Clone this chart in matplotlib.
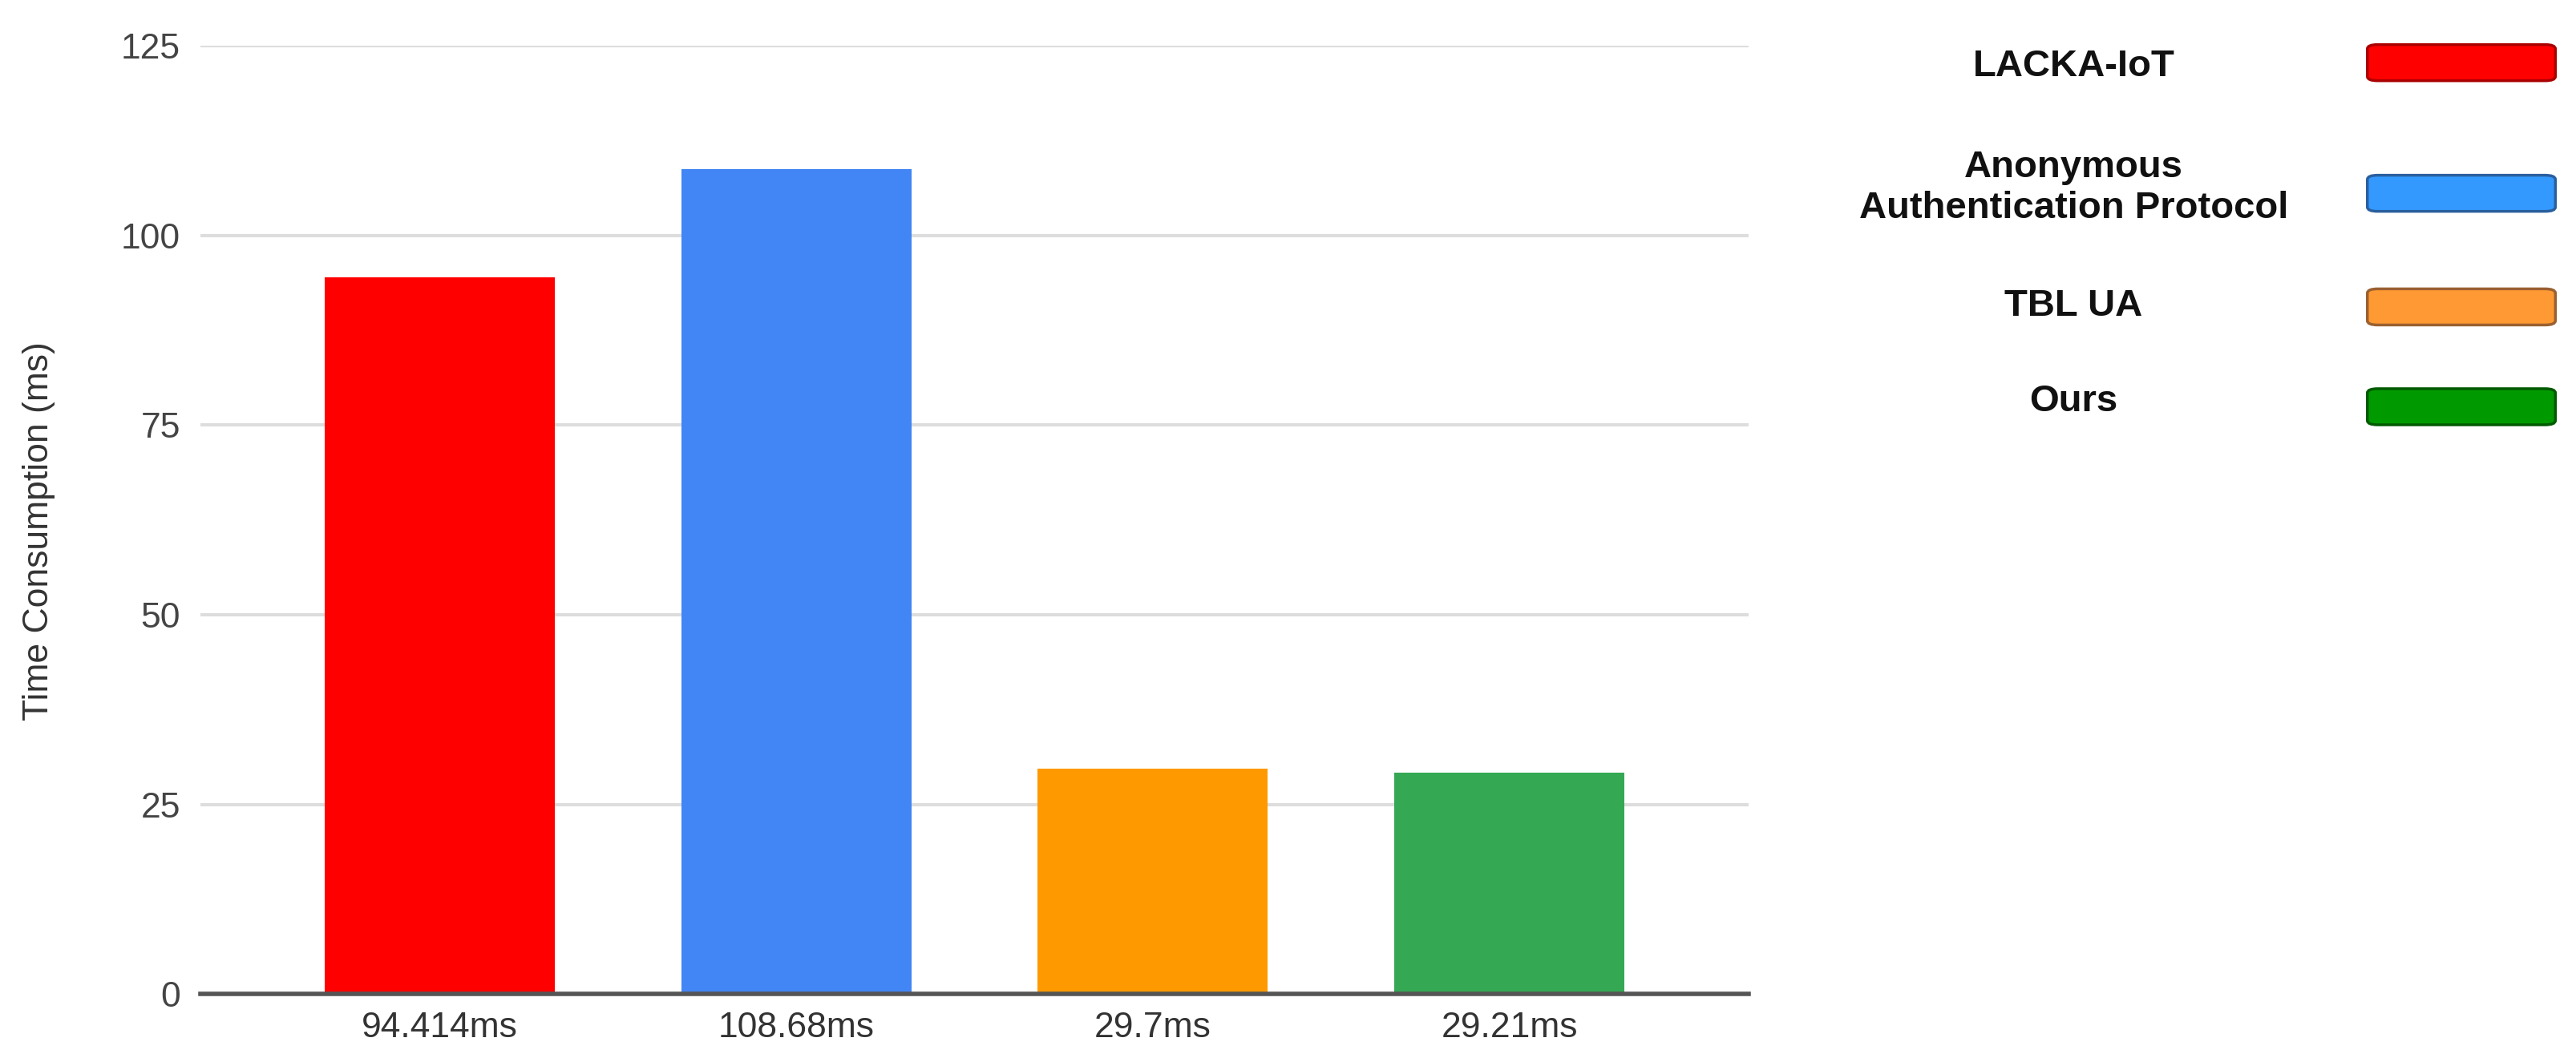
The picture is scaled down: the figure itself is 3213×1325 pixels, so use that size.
import matplotlib
matplotlib.use("Agg")
import matplotlib.pyplot as plt
from matplotlib.patches import FancyBboxPatch

plt.rcParams['font.family'] = ['Liberation Sans', 'DejaVu Sans']

# data
methods = ['LACKA-IoT', 'Anonymous\nAuthentication Protocol', 'TBL UA', 'Ours']
values = [94.414, 108.68, 29.7, 29.21]
tick_labels = ['94.414ms', '108.68ms', '29.7ms', '29.21ms']
bar_colors = ['#ff0000', '#4285f4', '#ff9900', '#34a853']
legend_colors = ['#ff0000', '#3399ff', '#ff9933', '#009900']
legend_edges = ['#aa0000', '#2a5f9e', '#9a6030', '#005a00']
yticks = [0, 25, 50, 75, 100, 125]

fig = plt.figure(figsize=(32.13, 13.25), dpi=100)
ax = fig.add_axes([0.0778, 0.064, 0.601, 0.893])

x = list(range(len(values)))
ax.bar(x, values, width=0.645, color=bar_colors, zorder=3)

ax.set_xlim(-0.67, 3.67)
ax.set_ylim(0, 125)
ax.set_yticks(yticks)
ax.set_yticklabels([str(t) for t in yticks], fontsize=32, color='#444444')
ax.set_xticks(x)
ax.set_xticklabels(tick_labels, fontsize=32, color='#333333')
ax.tick_params(axis='x', length=0, pad=16)
ax.tick_params(axis='y', length=0, pad=18)

ax.grid(axis='y', color='#dddddd', linewidth=3, zorder=0)
for s in ['top', 'right', 'left']:
    ax.spines[s].set_visible(False)
ax.spines['bottom'].set_color('#555555')
ax.spines['bottom'].set_linewidth(4)
ax.spines['bottom'].set_zorder(4)

fig.text(0.0150, 0.50, 'Time Consumption (ms)', rotation=90, fontsize=32,
         color='#333333', ha='center', va='center')

# legend drawn by hand to match the layout
text_y = [0.937, 0.823, 0.712, 0.622]
patch_y = [0.941, 0.818, 0.711, 0.617]
for name, col, ec, ty, py in zip(methods, legend_colors, legend_edges, text_y, patch_y):
    fig.text(0.805, ty, name, fontsize=34, fontweight='bold', ha='center',
             va='center', linespacing=1.2, color='#111111')
    p = FancyBboxPatch((0.919, py - 0.017), 0.073, 0.034,
                       boxstyle='round,pad=0,rounding_size=0.004',
                       transform=fig.transFigure, facecolor=col,
                       edgecolor=ec, linewidth=2.5)
    fig.patches.append(p)

fig.savefig('out.png', dpi=100, facecolor='white')
